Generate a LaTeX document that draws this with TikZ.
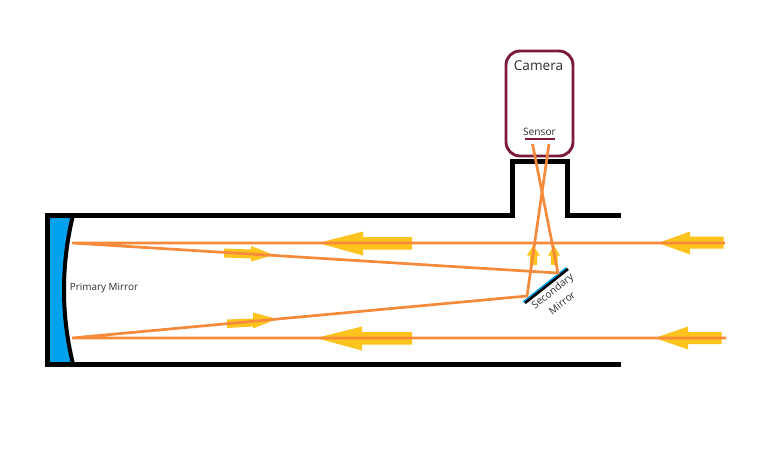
\documentclass[tikz,border=0pt]{standalone}
\usepackage{fontspec}
\setmainfont{Open Sans}
\definecolor{ray}{HTML}{F58A3A}
\definecolor{yel}{HTML}{FFC31E}
\definecolor{cam}{HTML}{7A1A3C}
\definecolor{glass}{HTML}{00A2ED}
\definecolor{txt}{HTML}{2E2E2E}
\tikzset{
  yarrow/.style={fill=yel,draw=none},
  rayline/.style={draw=ray,line width=2.7pt,line join=miter},
  tube/.style={draw=black,line width=5pt,line cap=butt,line join=miter},
  lab/.style={text=txt,inner sep=0pt}
}
\begin{document}
\begin{tikzpicture}[x=1pt,y=-1pt]
\useasboundingbox (0,0) rectangle (768,461);
\fill[white] (0,0) rectangle (768,461);
% primary mirror
\fill[glass,rounded corners=1.5pt] (47,216) -- (73,216) .. controls (61,265) and (61,315) .. (73,363) -- (47,363) -- cycle;
% tube
\draw[tube] (621,215) -- (567,215) -- (567,161) -- (512,161) -- (512,215) -- (47,215) -- (47,364) -- (621,364);
\draw[draw=black,line width=4pt] (73,215) .. controls (61,265) and (61,315) .. (73,364);
% camera
\draw[draw=cam,line width=2.9pt,rounded corners=14pt] (506,51) rectangle (573,156);
\node[lab,font=\fontsize{13.6}{16}\selectfont] (camlabel) at (538.5,66) {Camera};
\node[lab,font=\fontsize{10.2}{12}\selectfont] (senslabel) at (539.5,131.5) {Sensor};
\draw[draw=cam,line width=2.6pt] (525,139) -- (555,139);
% secondary mirror
\draw[draw=glass,line width=2.2pt] (523.5,302) -- (566.5,268);
\draw[draw=black,line width=2.6pt] (525,303) -- (568,269);
\node[lab,rotate=38,font=\fontsize{10.2}{12}\selectfont] (sec1) at (553,292) {Secondary};
\node[lab,rotate=38,font=\fontsize{10.2}{12}\selectfont] (sec2) at (562,303) {Mirror};
\node[lab,font=\fontsize{9.9}{12}\selectfont] (prim) at (104,288) {Primary Mirror};
% block arrows
\fill[yarrow] (412,237) -- (363,237) -- (363,231.5) -- (318,243) -- (363,255.5) -- (363,249.5) -- (412,249.5) -- cycle;
\fill[yarrow] (412,332) -- (362,332) -- (362,326.5) -- (316,338) -- (362,350.5) -- (362,344.5) -- (412,344.5) -- cycle;
\fill[yarrow] (723.5,236.5) -- (690,236.5) -- (690,231.5) -- (658,243) -- (690,254.5) -- (690,248.5) -- (723.5,248.5) -- cycle;
\fill[yarrow] (721.5,332) -- (688,332) -- (688,326.5) -- (655,338) -- (688,349.5) -- (688,344) -- (721.5,344) -- cycle;
\fill[yarrow] (224,248.5) -- (251,249.5) -- (251,246) -- (274,255) -- (251,261.5) -- (251,258.5) -- (224,257.5) -- cycle;
\fill[yarrow] (227,319.5) -- (253,318.5) -- (253,312.5) -- (277,319) -- (253,328.5) -- (253,326.5) -- (227,328) -- cycle;
\fill[yarrow] (530,265) -- (530,255.5) -- (527,255.5) -- (533,245.5) -- (540,255.5) -- (537,255.5) -- (537,265) -- cycle;
\fill[yarrow] (551,265) -- (551,255.5) -- (548,255.5) -- (554,245.5) -- (560,255.5) -- (557.5,255.5) -- (557.5,265) -- cycle;
% rays
\coordinate (a1) at (725,243);
\coordinate (a2) at (72,243);
\coordinate (a3) at (558,273);
\coordinate (a4) at (532.5,144);
\coordinate (b1) at (726,338);
\coordinate (b2) at (72,338);
\coordinate (b3) at (527,296);
\coordinate (b4) at (549,144);
\draw[rayline] (a1) -- (a2) -- (a3) -- (a4);
\draw[rayline] (b1) -- (b2) -- (b3) -- (b4);
\end{tikzpicture}
\end{document}
